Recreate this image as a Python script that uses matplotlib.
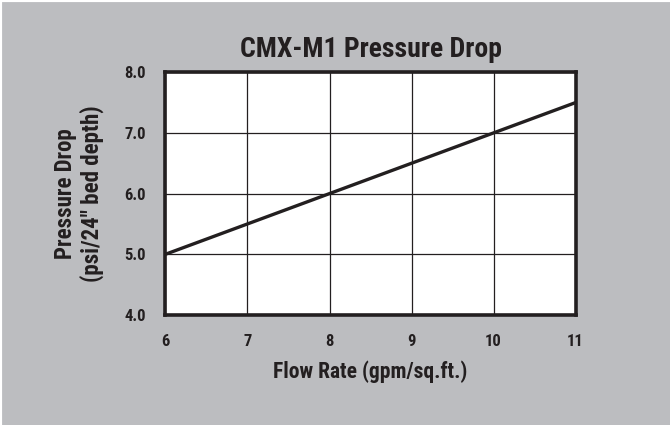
import numpy as np
import matplotlib.pyplot as plt

# data
flow_rate = [6, 11]
pressure_drop = [5.0, 7.5]
x_ticks = [6, 7, 8, 9, 10, 11]
y_ticks = [4.0, 5.0, 6.0, 7.0, 8.0]

bg = '#bcbdc0'
ink = '#231f20'
plt.rcParams['font.family'] = ['Roboto Condensed', 'DejaVu Sans']

fig = plt.figure(figsize=(6.7, 4.25), dpi=100)
fig.patch.set_facecolor(bg)
ax = fig.add_axes([0.247, 0.259, 0.612, 0.571])
ax.set_facecolor('white')

ax.plot(flow_rate, pressure_drop, color=ink, lw=2.4, solid_capstyle='butt', zorder=3)

ax.set_xlim(6, 11)
ax.set_ylim(4, 8)
ax.set_xticks(x_ticks)
ax.set_yticks(y_ticks)
ax.set_xticklabels([str(v) for v in x_ticks])
ax.set_yticklabels(['%.1f' % v for v in y_ticks])
ax.grid(True, color=ink, lw=0.9)
ax.tick_params(length=0, labelsize=12, colors=ink, pad=14)
for lbl in ax.get_xticklabels() + ax.get_yticklabels():
    lbl.set_fontweight('bold')
for s in ax.spines.values():
    s.set_linewidth(2.6)
    s.set_color(ink)
    s.set_zorder(4)

ax.set_xlabel('Flow Rate (gpm/sq.ft.)', fontsize=15.5, fontweight='bold', color=ink, labelpad=8)
ax.set_ylabel('Pressure Drop\n(psi/24" bed depth)', fontsize=16.5, fontweight='bold',
              color=ink, labelpad=15, linespacing=1.1)
ax.set_title('CMX-M1 Pressure Drop', fontsize=20, fontweight='bold', color=ink, pad=11)

# thin white edge at top and left
fig.add_artist(plt.Line2D([0, 0], [0, 1], transform=fig.transFigure, color='white', lw=3))
fig.add_artist(plt.Line2D([0, 1], [1, 1], transform=fig.transFigure, color='white', lw=3))

fig.savefig('out.png', dpi=100, facecolor=bg)
